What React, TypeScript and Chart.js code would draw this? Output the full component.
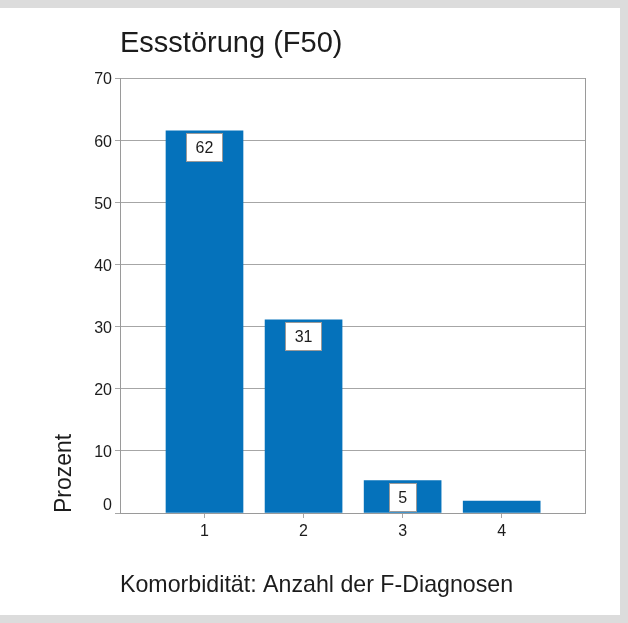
import React, { useEffect, useRef } from 'react';
import { Chart, registerables } from 'chart.js';

Chart.register(...registerables);

// ---- data ----
const categories = [1, 2, 3, 4];
const percentValues = [61.5, 31.1, 5.2, 1.9];
const valueLabels = ['62', '31', '5', ''];
const yTickValues = [0, 10, 20, 30, 40, 50, 60, 70];
const chartTitle = 'Essstörung (F50)';
const xAxisTitle = 'Komorbidität: Anzahl der F-Diagnosen';
const yAxisTitle = 'Prozent';

// ---- styling ----
const W = 628;
const H = 623;
const FONT = "'Liberation Sans', Arial, Helvetica, sans-serif";
const TEXT = '#1c1c1c';
const GRID = '#a6a6a6';
const AXIS = '#9a9a9a';
const BAR = '#0572bb';

const backgroundPlugin = {
  id: 'frameBackground',
  beforeDraw(chart: any) {
    const ctx = chart.ctx;
    ctx.save();
    ctx.fillStyle = '#dcdcdc';
    ctx.fillRect(0, 0, W, H);
    ctx.fillStyle = '#ffffff';
    ctx.fillRect(0, 8, 620, 607);
    ctx.restore();
  },
};

const valueBoxPlugin = {
  id: 'valueBoxes',
  afterDatasetsDraw(chart: any) {
    const ctx = chart.ctx;
    const meta = chart.getDatasetMeta(0);
    ctx.save();
    ctx.font = `16px ${FONT}`;
    meta.data.forEach((el: any, i: number) => {
      const label = valueLabels[i];
      if (!label) return;
      const { x, y } = el.getProps(['x', 'y'], true);
      const tw = ctx.measureText(label).width;
      const w = Math.round(tw + 19);
      const h = 29;
      const left = Math.round(x - w / 2);
      const top = Math.round(y + 2);
      ctx.fillStyle = '#ffffff';
      ctx.fillRect(left, top, w, h);
      ctx.strokeStyle = '#9a9a9a';
      ctx.lineWidth = 1;
      ctx.strokeRect(left + 0.5, top + 0.5, w - 1, h - 1);
      ctx.fillStyle = TEXT;
      ctx.textAlign = 'center';
      ctx.textBaseline = 'middle';
      ctx.fillText(label, x, top + h / 2 + 1);
    });
    ctx.restore();
  },
};

export default function App() {
  const ref = useRef<HTMLCanvasElement>(null);

  useEffect(() => {
    if (!ref.current) return;
    const chart = new Chart(ref.current, {
      type: 'bar',
      data: {
        datasets: [
          {
            label: yAxisTitle,
            data: categories.map((c, i) => ({ x: c, y: percentValues[i] })),
            backgroundColor: BAR,
            borderWidth: 0,
            barThickness: 77,
            yAxisID: 'y',
          } as any,
        ],
      },
      options: {
        responsive: false,
        animation: false,
        devicePixelRatio: 1,
        layout: { padding: { left: 0, right: 43, top: 0, bottom: 0 } },
        plugins: {
          legend: { display: false },
          tooltip: { enabled: false },
          title: {
            display: true,
            text: chartTitle,
            align: 'start',
            fullSize: false,
            color: TEXT,
            font: { size: 29, family: FONT, weight: 'normal' },
            padding: { top: 26.5, bottom: 16.7 },
          },
        },
        scales: {
          x: {
            type: 'linear',
            min: 0.147,
            max: 4.841,
            offset: false,
            afterBuildTicks: (s: any) => {
              s.ticks = categories.map((v) => ({ value: v }));
            },
            afterFit: (s: any) => {
              s.height = H - 513;
            },
            grid: { display: true, offset: false, drawOnChartArea: false, drawTicks: true, tickLength: 5, color: GRID },
            border: { display: true, color: AXIS },
            ticks: {
              color: TEXT,
              font: { size: 16, family: FONT },
              padding: 4,
              maxRotation: 0,
              autoSkip: false,
              callback: (v: any) => String(v),
            },
            title: {
              display: true,
              text: xAxisTitle,
              align: 'start',
              color: TEXT,
              font: { size: 23.2, family: FONT },
              padding: { top: 0, bottom: 23 },
            },
          } as any,
          y: {
            type: 'linear',
            min: 0,
            max: 70,
            afterBuildTicks: (s: any) => {
              s.ticks = yTickValues.map((v) => ({ value: v }));
            },
            afterFit: (s: any) => {
              s.width = 120;
            },
            grid: { color: GRID, tickLength: 5 },
            border: { display: true, color: AXIS },
            ticks: {
              color: TEXT,
              font: { size: 16, family: FONT },
              padding: 3,
              labelOffset: 2,
              callback: (v: any) => (v === 0 ? ['0', ''] : String(v)),
            },
            title: {
              display: true,
              text: yAxisTitle,
              align: 'start',
              color: TEXT,
              font: { size: 23, family: FONT },
              padding: { top: 51, bottom: 0 },
            },
          } as any,
          yRight: {
            type: 'linear',
            position: 'right',
            min: 0,
            max: 70,
            display: true,
            grid: { display: false, drawTicks: false },
            border: { display: true, color: AXIS },
            ticks: { display: false },
            afterFit: (s: any) => {
              s.width = 0;
            },
          } as any,
        },
      },
      plugins: [backgroundPlugin, valueBoxPlugin],
    });
    return () => chart.destroy();
  }, []);

  return (
    <div style={{ position: 'fixed', left: 0, top: 0, width: W, height: H }}>
      <canvas ref={ref} width={W} height={H} style={{ display: 'block', width: W, height: H }} />
    </div>
  );
}
